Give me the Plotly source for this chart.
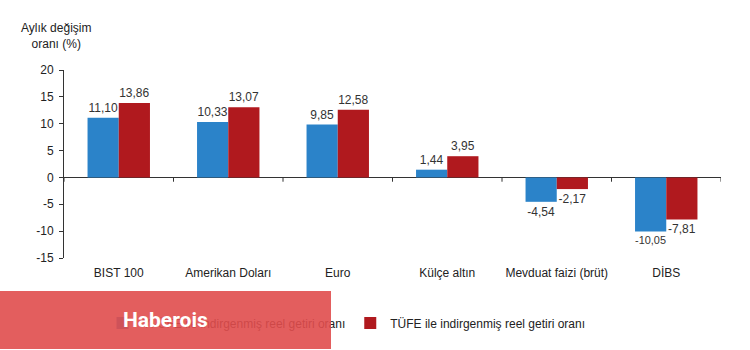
import plotly.graph_objects as go

categories = ["BIST 100", "Amerikan Doları", "Euro", "Külçe altın", "Mevduat faizi (brüt)", "DİBS"]
yiufe_values = [11.10, 10.33, 9.85, 1.44, -4.54, -10.05]
tufe_values = [13.86, 13.07, 12.58, 3.95, -2.17, -7.81]
series_names = ["Yİ-ÜFE ile indirgenmiş reel getiri oranı", "TÜFE ile indirgenmiş reel getiri oranı"]
y_ticks = [20, 15, 10, 5, 0, -5, -10, -15]

FONT = "Liberation Sans, Arial, sans-serif"

def fmt(v):
    return f"{v:.2f}".replace(".", ",")

fig = go.Figure()
fig.add_trace(go.Bar(
    x=categories, y=yiufe_values, name=series_names[0],
    marker=dict(color="#2B83C9", line=dict(width=0)),
    text=[fmt(v) for v in yiufe_values], textposition="outside",
    textfont=dict(size=12, color="#333333", family=FONT), cliponaxis=False,
))
fig.add_trace(go.Bar(
    x=categories, y=tufe_values, name=series_names[1],
    marker=dict(color="#B0191E", line=dict(width=0)),
    text=[fmt(v) for v in tufe_values], textposition="outside",
    textfont=dict(size=12, color="#333333", family=FONT), cliponaxis=False,
))

shapes = []
# category boundary tick marks on the zero line
for i in range(len(categories) + 1):
    shapes.append(dict(type="line", xref="x", yref="y", x0=i - 0.5, x1=i - 0.5,
                       y0=0, y1=-0.8, line=dict(color="#333333", width=1)))

fig.update_layout(
    width=750, height=350,
    margin=dict(l=64, r=29, t=70, b=92),
    paper_bgcolor="white", plot_bgcolor="white",
    barmode="group", bargap=0.43, bargroupgap=0,
    font=dict(family=FONT, size=11, color="#222222"),
    showlegend=True,
    legend=dict(orientation="h", x=0.43, xanchor="center", y=-0.346, yanchor="middle",
                bgcolor="rgba(0,0,0,0)",
                font=dict(size=12, color="#222222"), traceorder="normal"),
    xaxis=dict(showline=False, ticks="", showgrid=False, zeroline=False,
               tickfont=dict(size=12, color="#222222"), range=[-0.5, 5.5],
               ticklabelstandoff=6),
    yaxis=dict(range=[-15, 20], tickvals=y_ticks, ticktext=[str(t) for t in y_ticks],
               showline=True, linecolor="#333333", linewidth=1, ticks="outside", ticklen=4,
               tickcolor="#333333", showgrid=False, zeroline=True, zerolinecolor="#333333",
               zerolinewidth=1, tickfont=dict(size=12, color="#222222"),
               ticklabelstandoff=3),
    shapes=shapes,
    annotations=[
        dict(text="Aylık değişim<br>oranı (%)", xref="paper", yref="paper",
             x=-0.012, y=1.27, xanchor="center", yanchor="top", showarrow=False,
             font=dict(size=12, color="#222222"), align="center"),
        dict(text="<b>Haberois</b>", xref="paper", yref="paper", x=0.1545, y=-0.33,
             xanchor="center", yanchor="middle", showarrow=False,
             width=331, height=58, borderpad=0, borderwidth=0,
             bgcolor="rgba(224,76,76,0.9)", align="center", valign="middle",
             font=dict(size=21, color="white", family="Roboto, Arial, sans-serif")),
    ],
)

fig.write_html("out.html")
